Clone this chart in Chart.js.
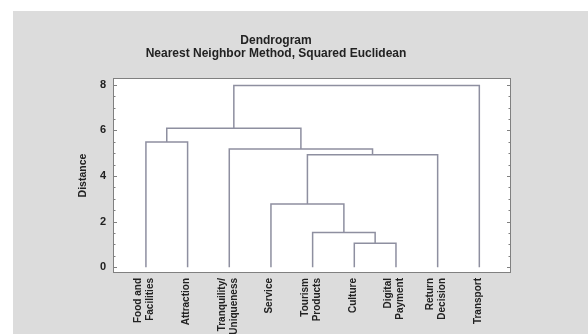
<!DOCTYPE html>
<html>
<head>
<meta charset="utf-8">
<script src="https://cdn.jsdelivr.net/npm/chart.js@4"></script>
<style>
  html, body { margin: 0; padding: 0; background: #fff; }
  #wrap { width: 588px; height: 334px; }
</style>
</head>
<body>
<div id="wrap"><canvas id="dendro" width="588" height="334"></canvas></div>
<script>
var titleLines = ['Dendrogram', 'Nearest Neighbor Method, Squared Euclidean'];
var leafLabels = [['Food and', 'Facilities'], ['Attraction'], ['Tranquility/', 'Uniqueness'], ['Service'],
  ['Tourism', 'Products'], ['Culture'], ['Digital', 'Payment'], ['Return', 'Decision'], ['Transport']];
// merge steps: ids 0-8 are leaves, 9+ are earlier merges
var mergeLeft = [5, 4, 3, 11, 2, 0, 14, 15];
var mergeRight = [6, 9, 10, 7, 12, 1, 13, 8];
var mergeHeight = [1.05, 1.53, 2.78, 4.94, 5.19, 5.49, 6.10, 7.97];
var yTicks = [0, 2, 4, 6, 8];

var font = '"Liberation Sans", Arial, sans-serif';
var lineColor = '#8e8fa0';

// node positions
var nodeX = leafLabels.map(function (l, i) { return i; });
var nodeY = leafLabels.map(function () { return 0; });
var datasets = [];
for (var k = 0; k < mergeHeight.length; k++) {
  var a = mergeLeft[k], b = mergeRight[k], h = mergeHeight[k];
  datasets.push({
    data: [{x: nodeX[a], y: nodeY[a]}, {x: nodeX[a], y: h}, {x: nodeX[b], y: h}, {x: nodeX[b], y: nodeY[b]}],
    showLine: true,
    borderColor: lineColor,
    borderWidth: 1.5,
    pointRadius: 0,
    tension: 0
  });
  nodeX.push((nodeX[a] + nodeX[b]) / 2);
  nodeY.push(h);
}

var framePlugin = {
  id: 'frame',
  beforeDraw: function (chart) {
    var ctx = chart.ctx, ca = chart.chartArea;
    ctx.save();
    ctx.fillStyle = '#ffffff';
    ctx.fillRect(0, 0, chart.width, chart.height);
    ctx.fillStyle = '#dcdcdc';
    ctx.fillRect(13, 11, chart.width - 13, chart.height - 11);
    ctx.fillStyle = '#ffffff';
    ctx.fillRect(ca.left, ca.top, ca.right - ca.left, ca.bottom - ca.top);
    ctx.restore();
  },
  afterDraw: function (chart) {
    var ctx = chart.ctx, ca = chart.chartArea, ys = chart.scales.y, xs = chart.scales.x;
    ctx.save();
    ctx.strokeStyle = '#808080';
    ctx.lineWidth = 1;
    ctx.strokeRect(ca.left + 0.5, ca.top + 0.5, ca.right - ca.left - 1, ca.bottom - ca.top - 1);
    ctx.beginPath();
    for (var v = 0; v <= 8; v += 0.5) {
      var py = Math.round(ys.getPixelForValue(v)) + 0.5;
      var len = (v % 2 === 0) ? 4 : 2.5;
      ctx.moveTo(ca.left, py); ctx.lineTo(ca.left + len, py);
      ctx.moveTo(ca.right, py); ctx.lineTo(ca.right - len, py);
    }
    ctx.stroke();
    ctx.fillStyle = '#222';
    ctx.font = 'bold 12px ' + font;
    ctx.textAlign = 'center';
    ctx.textBaseline = 'middle';
    ctx.fillText(titleLines[0], 276, 41);
    ctx.fillText(titleLines[1], 276, 54);

    // leaf labels, rotated, each block centred on its leaf
    ctx.font = 'bold 10px ' + font;
    ctx.textAlign = 'right';
    leafLabels.forEach(function (lines, i) {
      var px = xs.getPixelForValue(i);
      lines.forEach(function (txt, j) {
        var cx = px - 1.5 + (j - (lines.length - 1) / 2) * 12;
        ctx.save();
        ctx.translate(cx, ca.bottom + 5);
        ctx.rotate(-Math.PI / 2);
        ctx.fillText(txt, 0, 0);
        ctx.restore();
      });
    });
    ctx.restore();
  }
};

new Chart(document.getElementById('dendro'), {
  type: 'scatter',
  data: { datasets: datasets },
  plugins: [framePlugin],
  options: {
    responsive: false,
    animation: false,
    layout: { padding: { left: 70, right: 77, top: 78, bottom: 0 } },
    plugins: { legend: { display: false }, tooltip: { enabled: false } },
    scales: {
      x: {
        type: 'linear',
        min: -0.79,
        max: 8.76,
        afterBuildTicks: function (scale) {
          scale.ticks = leafLabels.map(function (l, i) { return { value: i }; });
        },
        afterFit: function (scale) { scale.height = 61; },
        grid: { display: false, drawTicks: false },
        border: { display: false },
        ticks: { display: false }
      },
      y: {
        min: -0.25,
        max: 8.3,
        afterBuildTicks: function (scale) {
          scale.ticks = yTicks.map(function (t) { return { value: t }; });
        },
        afterFit: function (scale) { scale.width = 43; },
        grid: { display: false, drawTicks: false },
        border: { display: false },
        ticks: {
          padding: 7,
          color: '#222',
          font: { family: font, size: 11, weight: 'bold' }
        },
        title: {
          display: true,
          text: 'Distance',
          color: '#222',
          padding: { top: 7, bottom: 0 },
          font: { family: font, size: 10.5, weight: 'bold' }
        }
      }
    }
  }
});
</script>
</body>
</html>
